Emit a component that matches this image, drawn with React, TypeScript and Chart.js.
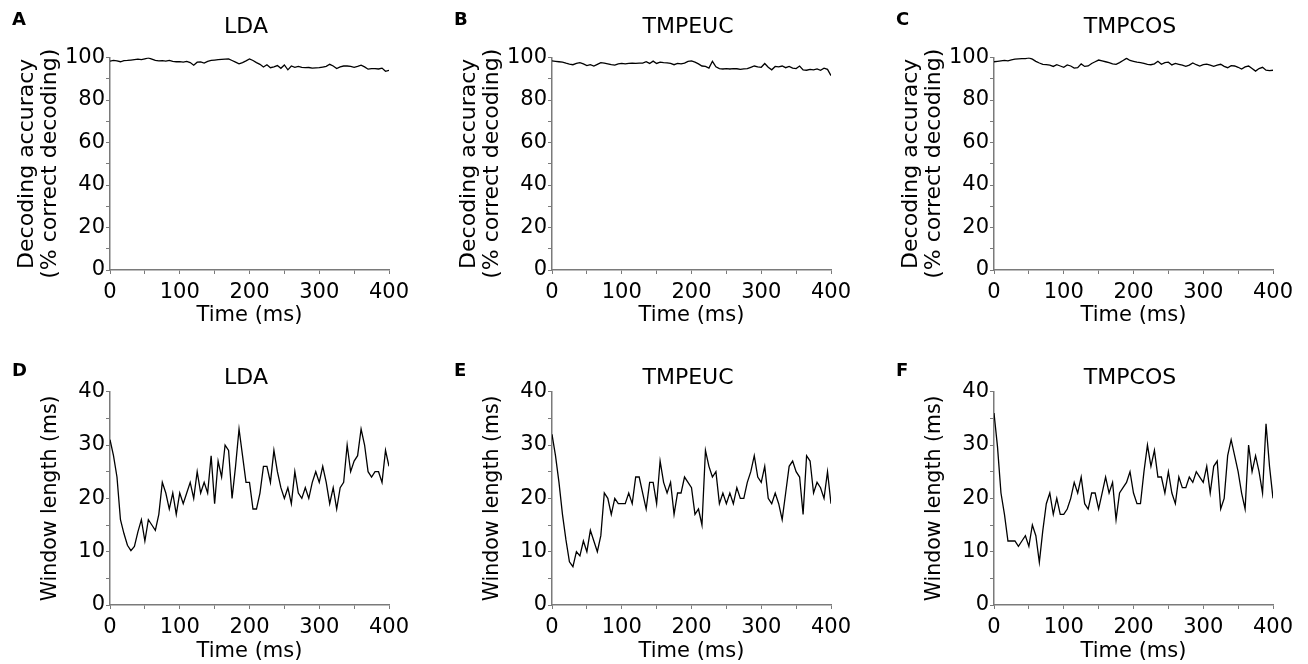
import React, { useEffect, useRef } from 'react';
import { Chart, registerables } from 'chart.js';

Chart.register(...registerables);
Chart.defaults.font.family = '"DejaVu Sans", "Liberation Sans", Arial, sans-serif';

// ---------- data ----------
const TIME_MS = [
  0, 5, 10, 15, 20, 25, 30, 35, 40, 45, 50, 55, 60, 65, 70, 75, 80, 85, 90, 95,
  100, 105, 110, 115, 120, 125, 130, 135, 140, 145, 150, 155, 160, 165, 170, 175, 180, 185, 190, 195,
  200, 205, 210, 215, 220, 225, 230, 235, 240, 245, 250, 255, 260, 265, 270, 275, 280, 285, 290, 295,
  300, 305, 310, 315, 320, 325, 330, 335, 340, 345, 350, 355, 360, 365, 370, 375, 380, 385, 390, 395,
  400,
];

const TIME_TICK_LABELS = [0, 100, 200, 300, 400];
const ACC_TICK_LABELS = [0, 20, 40, 60, 80, 100];
const WIN_TICK_LABELS = [0, 10, 20, 30, 40];

const LDA_ACCURACY = [
  98.3, 98.6, 98.4, 98.0, 98.5, 98.6, 98.8, 99.0, 99.2, 99.0, 99.4, 99.8, 99.2, 98.6, 98.4, 98.5, 98.3, 98.6, 98.2, 98.0,
  98.1, 97.8, 98.2, 97.6, 96.4, 97.8, 97.9, 97.4, 98.2, 98.6, 98.8, 99.0, 99.1, 99.2, 99.3, 98.6, 97.8, 97.0, 97.6, 98.4,
  99.3, 98.6, 97.6, 96.8, 95.5, 96.6, 95.2, 95.6, 96.2, 94.9, 96.5, 94.2, 96.0, 95.4, 95.8, 95.4, 95.2, 95.3, 95.0, 95.1,
  95.2, 95.5, 95.8, 96.8, 96.0, 94.8, 95.6, 96.0, 96.0, 95.8, 95.4, 95.8, 96.4, 95.6, 94.5, 94.8, 94.8, 94.6, 95.0, 93.5,
  94.0,
];

const TMPEUC_ACCURACY = [
  98.4, 98.2, 98.0, 97.8, 97.3, 96.9, 96.6, 97.2, 97.6, 97.0, 96.2, 96.6, 96.0, 96.8, 97.6, 97.4, 97.0, 96.6, 96.4, 97.0,
  97.2, 97.0, 97.2, 97.3, 97.2, 97.4, 97.4, 98.0, 97.2, 98.3, 97.2, 97.8, 97.6, 97.5, 97.2, 96.6, 97.2, 97.0, 97.4, 98.2,
  98.4, 97.8, 97.0, 96.0, 95.8, 95.0, 98.2, 95.6, 94.8, 94.6, 94.8, 94.6, 94.8, 94.7, 94.4, 94.6, 94.8, 95.4, 96.0, 95.6,
  95.4, 97.2, 95.4, 94.2, 95.8, 95.6, 96.0, 95.2, 95.8, 95.0, 94.8, 96.0, 94.2, 94.0, 94.4, 94.2, 94.6, 94.0, 95.0, 94.4,
  91.5,
];

const TMPCOS_ACCURACY = [
  98.0, 98.2, 98.4, 98.6, 98.4, 98.9, 99.2, 99.4, 99.5, 99.5, 99.8, 99.2, 98.2, 97.4, 96.8, 96.6, 96.4, 95.8, 96.6, 96.0,
  95.4, 96.5, 96.0, 95.0, 95.2, 97.0, 95.8, 96.0, 97.2, 98.0, 98.8, 98.4, 98.0, 97.6, 97.0, 96.8, 97.6, 98.6, 99.6, 98.6,
  98.2, 97.8, 97.6, 97.2, 96.8, 96.6, 97.0, 98.2, 96.8, 97.6, 97.8, 96.5, 97.2, 96.8, 96.4, 95.8, 96.4, 97.4, 96.6, 96.0,
  96.6, 96.9, 96.4, 95.8, 96.4, 96.8, 95.8, 95.2, 96.2, 96.0, 95.4, 94.6, 95.6, 96.0, 94.8, 93.6, 94.8, 95.4, 94.0, 93.8,
  94.0,
];

const LDA_WINDOW = [
  31, 28, 24, 16, 13.4, 11.2, 10.2, 11, 13.7, 16, 12, 16, 15, 14, 17, 23, 21, 18, 21, 17,
  21, 19, 21, 23, 20, 25, 21, 23, 21, 28, 19, 27, 24, 30, 29, 20, 26, 33, 28, 23,
  23, 18, 18, 21, 26, 26, 23, 29, 25, 22, 20, 22, 19, 25, 21, 20, 22, 20, 23, 25,
  23, 26, 23, 19, 22, 18, 22, 23, 30, 25, 27, 28, 33, 30, 25, 24, 25, 25, 23, 29,
  26,
];

const TMPEUC_WINDOW = [
  32, 28, 23, 17, 12.2, 8.1, 7.2, 10, 9.2, 12, 10, 14, 12, 10, 13, 21, 20, 17, 20, 19,
  19, 19, 21, 19, 24, 24, 21, 18, 23, 23, 19, 27, 23, 21, 23, 17, 21, 21, 24, 23,
  22, 17, 18, 15, 29, 26, 24, 25, 19, 21, 19, 21, 19, 22, 20, 20, 23, 25, 28, 24,
  23, 26, 20, 19, 21, 19, 16, 21, 26, 27, 25, 24, 17, 28, 27, 21, 23, 22, 20, 25,
  19,
];

const TMPCOS_WINDOW = [
  36, 29.7, 21, 17, 12, 12, 12, 11, 12, 13, 11, 15, 13, 8, 14, 19, 21, 17, 20, 17,
  17, 18, 20, 23, 21, 24, 19, 18, 21, 21, 18, 21, 24, 21, 23, 16, 21, 22, 23, 25,
  21, 19, 19, 25, 30, 26, 29, 24, 24, 21, 25, 21, 19, 24, 22, 22, 24, 23, 25, 24,
  23, 26, 21, 26, 27, 18, 20, 28, 31, 28, 25, 21, 18, 30, 25, 28, 25, 21, 34, 26,
  20,
];

// ---------- layout ----------
const AXIS_GRAY = '#7a7a7a';
const CANVAS_W = 424;
const CANVAS_H = 332;

const panelTextPlugin = {
  id: 'panelText',
  afterDraw(chart: any, _args: any, opts: any) {
    const ctx = chart.ctx;
    ctx.save();
    ctx.fillStyle = '#000';
    ctx.textBaseline = 'middle';
    ctx.textAlign = 'left';
    ctx.font = 'bold 18px "DejaVu Sans", Arial, sans-serif';
    ctx.fillText(opts.letter, 12, opts.letterY);
    ctx.textAlign = 'center';
    ctx.font = '22px "DejaVu Sans", Arial, sans-serif';
    ctx.fillText(opts.title, 246, opts.titleY);
    ctx.restore();
  },
};

type PanelCfg = {
  left: number;
  top: number;
  letter: string;
  title: string;
  values: number[];
  row: 'top' | 'bottom';
};

function buildConfig(cfg: PanelCfg): any {
  const isTop = cfg.row === 'top';
  const yLabels = isTop ? ACC_TICK_LABELS : WIN_TICK_LABELS;
  return {
    type: 'line',
    data: {
      datasets: [
        {
          data: TIME_MS.map((t, i) => ({ x: t, y: cfg.values[i] })),
          borderColor: '#000',
          borderWidth: 1.3,
          pointRadius: 0,
          fill: false,
          tension: 0,
        },
      ],
    },
    options: {
      responsive: false,
      animation: false,
      events: [],
      layout: { padding: { left: 0, right: 35, top: isTop ? 57.5 : 59.7, bottom: 0 } },
      plugins: {
        legend: { display: false },
        tooltip: { enabled: false },
        panelText: {
          letter: cfg.letter,
          title: cfg.title,
          letterY: isTop ? 20 : 39.5,
          titleY: isTop ? 27 : 46.5,
        },
      },
      scales: {
        x: {
          type: 'linear',
          min: 0,
          max: 400,
          afterFit: (s: any) => {
            s.height = isTop ? 62 : 59;
          },
          ticks: {
            stepSize: 50,
            autoSkip: false,
            maxRotation: 0,
            padding: 6.4,
            color: '#000',
            font: { size: 21 },
            callback: (v: number) => (TIME_TICK_LABELS.includes(v) ? String(v) : ''),
          },
          grid: { drawOnChartArea: false, drawTicks: true, tickLength: 4, color: AXIS_GRAY },
          border: { display: true, color: AXIS_GRAY, width: 1.5 },
          title: {
            display: true,
            text: 'Time (ms)',
            color: '#000',
            font: { size: 21, lineHeight: 1.2 },
            padding: { top: 0, bottom: isTop ? 3.9 : 0.1 },
          },
        },
        y: {
          type: 'linear',
          min: 0,
          max: isTop ? 100 : 40,
          afterFit: (s: any) => {
            s.width = 110;
          },
          ticks: {
            stepSize: isTop ? 10 : 5,
            autoSkip: false,
            padding: 1,
            color: '#000',
            font: { size: 21 },
            callback: (v: number) => (yLabels.includes(v) ? String(v) : ''),
          },
          grid: { drawOnChartArea: false, drawTicks: true, tickLength: 4, color: AXIS_GRAY },
          border: { display: true, color: AXIS_GRAY, width: 1.5 },
          title: {
            display: true,
            text: isTop ? ['Decoding accuracy', '(% correct decoding)'] : 'Window length (ms)',
            color: '#000',
            font: isTop ? { size: 22, lineHeight: 1.03 } : { size: 20.5, lineHeight: 1.1 },
            padding: { top: isTop ? 16 : 39.2, bottom: 0 },
          },
        },
      },
    },
    plugins: [panelTextPlugin],
  };
}

function Panel(cfg: PanelCfg) {
  const ref = useRef<HTMLCanvasElement | null>(null);
  useEffect(() => {
    if (!ref.current) return;
    const chart = new Chart(ref.current, buildConfig(cfg));
    return () => chart.destroy();
  }, []);
  return (
    <canvas
      ref={ref}
      width={CANVAS_W}
      height={CANVAS_H}
      style={{ position: 'absolute', left: cfg.left, top: cfg.top, width: CANVAS_W, height: CANVAS_H }}
    />
  );
}

export default function App() {
  return (
    <div
      style={{
        position: 'absolute',
        left: 0,
        top: 0,
        width: 1308,
        height: 664,
        background: '#fff',
        overflow: 'hidden',
      }}
    >
      <Panel left={0} top={0} letter="A" title="LDA" values={LDA_ACCURACY} row="top" />
      <Panel left={442} top={0} letter="B" title="TMPEUC" values={TMPEUC_ACCURACY} row="top" />
      <Panel left={884} top={0} letter="C" title="TMPCOS" values={TMPCOS_ACCURACY} row="top" />
      <Panel left={0} top={332} letter="D" title="LDA" values={LDA_WINDOW} row="bottom" />
      <Panel left={442} top={332} letter="E" title="TMPEUC" values={TMPEUC_WINDOW} row="bottom" />
      <Panel left={884} top={332} letter="F" title="TMPCOS" values={TMPCOS_WINDOW} row="bottom" />
    </div>
  );
}
